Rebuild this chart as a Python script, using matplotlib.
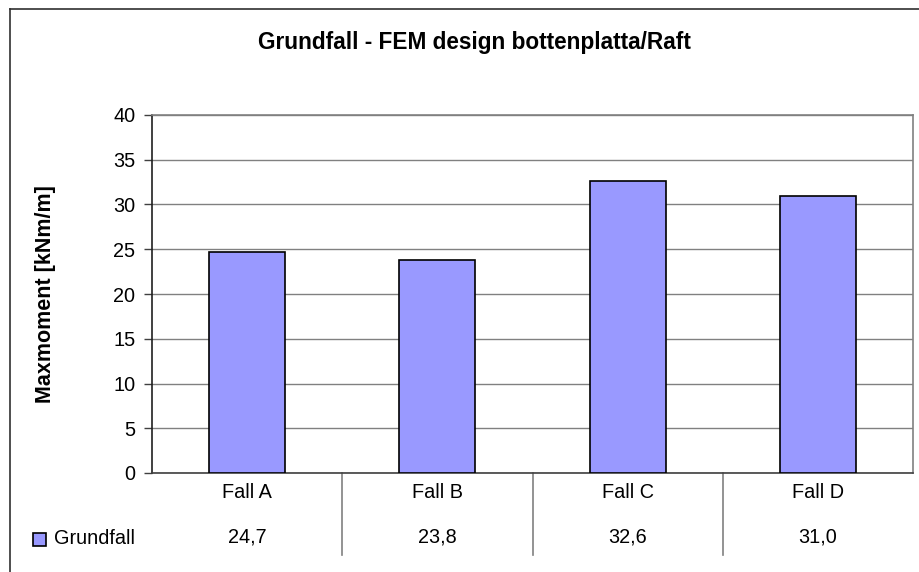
import matplotlib.pyplot as plt
from matplotlib.patches import Rectangle
from matplotlib.lines import Line2D

plt.rcParams['font.family'] = ['Liberation Sans', 'DejaVu Sans']

# data
categories = ['Fall A', 'Fall B', 'Fall C', 'Fall D']
values = [24.7, 23.8, 32.6, 31.0]
value_labels = ['24,7', '23,8', '32,6', '31,0']
series_name = 'Grundfall'
yticks = [0, 5, 10, 15, 20, 25, 30, 35, 40]

W, H = 919, 572
fs = 14.3
fig = plt.figure(figsize=(W / 100, H / 100), dpi=100)

# plot area in pixels: left 152, right 913, top 115, bottom 473
ax = fig.add_axes([152 / W, (H - 473) / H, (913 - 152) / W, (473 - 115) / H])

x = range(len(categories))
ax.bar(x, values, width=0.4, color='#9999FF', edgecolor='black', linewidth=1.2, zorder=3)

ax.set_xlim(-0.5, len(categories) - 0.5)
ax.set_ylim(0, 40)
ax.set_yticks(yticks)
ax.set_yticklabels([str(t) for t in yticks], fontsize=fs)
ax.tick_params(axis='y', direction='out', length=6, width=1, color='#404040', pad=6)
ax.set_xticks([])
ax.yaxis.grid(True, color='#808080', linewidth=1)
ax.set_axisbelow(True)

for side in ['top', 'right']:
    ax.spines[side].set_color('#808080')
    ax.spines[side].set_linewidth(1.2)
ax.spines['left'].set_color('#202020')
ax.spines['left'].set_linewidth(1.2)
ax.spines['bottom'].set_color('#404040')
ax.spines['bottom'].set_linewidth(1.2)

ax.set_ylabel('Maxmoment [kNm/m]', fontsize=15.5, fontweight='bold')
ax.yaxis.set_label_coords((56 - 152) / (913 - 152), 0.5)

# data table under the axis
trans = ax.get_xaxis_transform()
h_ax = 473 - 115
for i, (cat, lab) in enumerate(zip(categories, value_labels)):
    ax.text(i, (473 - 492) / h_ax, cat, transform=trans, ha='center', va='center',
            fontsize=fs, clip_on=False)
    ax.text(i, (473 - 537) / h_ax, lab, transform=trans, ha='center', va='center',
            fontsize=fs, clip_on=False)
for i in range(1, len(categories)):
    ax.add_line(Line2D([i - 0.5, i - 0.5], [0, (473 - 555) / h_ax], transform=trans,
                       color='#808080', linewidth=1.2, clip_on=False))

# legend key
fig.patches.append(Rectangle((33 / W, (H - 546) / H), 13 / W, 13 / H, transform=fig.transFigure,
                             facecolor='#9999FF', edgecolor='black', linewidth=1.2))
fig.text(54 / W, (H - 538) / H, series_name, ha='left', va='center', fontsize=fs)

# title
fig.text(474 / W, (H - 42) / H, 'Grundfall - FEM design bottenplatta/Raft', ha='center',
         va='center', fontsize=16.3, fontweight='bold')

# chart border (top and left visible)
fig.add_artist(Line2D([9.5 / W, 9.5 / W], [0, (H - 9) / H], transform=fig.transFigure,
                      color='#303030', linewidth=1.2))
fig.add_artist(Line2D([9.5 / W, 1], [(H - 9) / H, (H - 9) / H], transform=fig.transFigure,
                      color='#303030', linewidth=1.2))

fig.savefig('out.png', dpi=100)
